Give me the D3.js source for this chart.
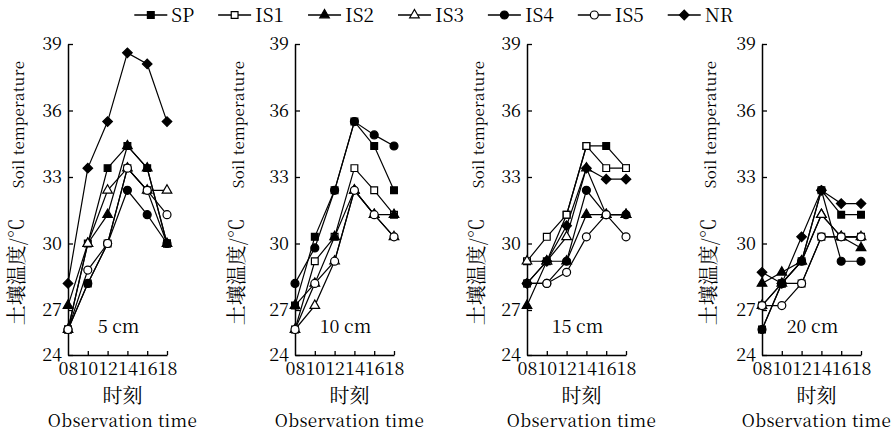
<!DOCTYPE html>
<html>
<head>
<meta charset="utf-8">
<script src="https://cdn.jsdelivr.net/npm/d3@7"></script>
<style>
    body { margin: 0; background: #fff; }
    svg text, svg tspan { fill: #000; }
    .serif { font-family: "Noto Serif CJK SC" !important; }
    .cjk { font-family: "Noto Serif CJK SC" !important; }
</style>
</head>
<body>
<div id="main"></div>
<script>
// observation hours and panel labels
const times = [8, 10, 12, 14, 16, 18];
const seriesNames = ["SP", "IS1", "IS2", "IS3", "IS4", "IS5", "NR"];
const depthLabels = ["5 cm", "10 cm", "15 cm", "20 cm"];
const yTicks = [24, 27, 30, 33, 36, 39];

// one row per depth (5, 10, 15, 20 cm)
const SP = [
    [25.7, 30.0, 33.4, 34.4, 33.4, 30.0],
    [27.2, 30.3, 32.4, 35.5, 34.4, 32.4],
    [28.2, 29.2, 31.3, 34.4, 34.4, 33.4],
    [25.7, 28.2, 29.2, 32.4, 31.3, 31.3]
];
const IS1 = [
    [25.7, 28.2, 30.0, 33.4, 32.4, 30.0],
    [25.7, 29.2, 30.3, 33.4, 32.4, 31.3],
    [29.2, 30.3, 31.3, 34.4, 33.4, 33.4],
    [27.2, 28.2, 28.2, 30.3, 30.3, 30.3]
];
const IS2 = [
    [27.2, 30.0, 31.3, 34.4, 33.4, 30.0],
    [27.2, 28.2, 30.3, 32.4, 31.3, 31.3],
    [27.2, 29.2, 29.2, 31.3, 31.3, 31.3],
    [28.2, 28.7, 29.2, 31.3, 30.3, 29.8]
];
const IS3 = [
    [25.7, 30.0, 32.4, 33.4, 32.4, 32.4],
    [25.7, 27.2, 29.2, 32.4, 31.3, 30.3],
    [29.2, 29.2, 30.3, 33.4, 31.3, 31.3],
    [27.2, 28.2, 29.2, 31.3, 30.3, 30.3]
];
const IS4 = [
    [25.7, 28.2, 30.0, 32.4, 31.3, 30.0],
    [28.2, 29.8, 32.4, 35.5, 34.9, 34.4],
    [28.2, 28.2, 29.2, 32.4, 31.3, 31.3],
    [25.7, 28.2, 29.2, 32.4, 29.2, 29.2]
];
const IS5 = [
    [25.7, 28.8, 30.0, 33.4, 32.4, 31.3],
    [25.7, 28.2, 29.2, 32.4, 31.3, 30.3],
    [28.2, 28.2, 28.7, 30.3, 31.3, 30.3],
    [27.2, 27.2, 28.2, 30.3, 30.3, 30.3]
];
const NR = [
    [28.2, 33.4, 35.5, 38.6, 38.1, 35.5],
    null,
    [28.2, 29.2, 30.8, 33.4, 32.9, 32.9],
    [28.7, 28.2, 30.3, 32.4, 31.8, 31.8]
];

const seriesData = [SP, IS1, IS2, IS3, IS4, IS5, NR];

ctx = {
    width: 895,
    height: 433,
    font: "'Noto Serif CJK SC'",
    panelX: [68, 295, 527, 762],   // y axis position of each panel
    titleX: [24, 244, 484, 716],   // baseline of rotated y title
    plotW: 99,
    yTop: 44,
    yBottom: 355,
    svg: null,
};

// marker style for every series: shape, filled or open, rotated
const markers = {
    SP:  { type: d3.symbolSquare, size: 46, fill: true, rot: 0 },
    IS1: { type: d3.symbolSquare, size: 46, fill: false, rot: 0 },
    IS2: { type: d3.symbolTriangle, size: 40, fill: true, rot: 0 },
    IS3: { type: d3.symbolTriangle, size: 40, fill: false, rot: 0 },
    IS4: { type: d3.symbolCircle, size: 50, fill: true, rot: 0 },
    IS5: { type: d3.symbolCircle, size: 50, fill: false, rot: 0 },
    NR:  { type: d3.symbolSquare, size: 46, fill: true, rot: 45 },
};

// the original axis is compressed between 24 and 27
let y = d3.scaleLinear()
    .domain([24, 27, 39])
    .range([ctx.yBottom, 310, ctx.yTop]);

function drawMarker(sel, name) {
    const m = markers[name];
    sel.attr("d", d3.symbol().type(m.type).size(m.size))
        .attr("fill", m.fill ? "#000" : "#fff")
        .attr("stroke", "#000")
        .attr("stroke-width", 1.2);
}

function drawLegend(svg) {
    let legend = svg.append("g").attr("class", "legend");
    let xPos = 0;
    seriesNames.forEach((name) => {
        let item = legend.append("g").attr("transform", "translate(" + xPos + ",0)");
        item.append("line")
            .attr("x1", 0).attr("x2", 33)
            .attr("y1", 15).attr("y2", 15)
            .attr("stroke", "#000")
            .attr("stroke-width", 1.3);
        item.append("path")
            .attr("transform", "translate(16.5,15) rotate(" + markers[name].rot + ")")
            .call(drawMarker, name);
        let t = item.append("text")
            .attr("class", "serif")
            .attr("x", 37)
            .attr("y", 22)
            .style("font-family", ctx.font)
            .style("font-size", "19px")
            .text(name);
        xPos += 37 + t.node().getComputedTextLength() + 24;
    });
    // centre the whole legend row
    let bbox = legend.node().getBBox();
    legend.attr("transform", "translate(" + (434 - bbox.width / 2) + ",0)");
}

function drawPanel(svg, p) {
    const x0 = ctx.panelX[p];
    let x = d3.scaleLinear().domain([8, 18]).range([x0, x0 + ctx.plotW]);

    let g = svg.append("g").attr("class", "panel_" + p);

    // y axis, ticks pointing inward
    let yAxis = g.append("g")
        .attr("transform", "translate(" + x0 + ",0)")
        .call(d3.axisLeft(y).tickValues(yTicks).tickSize(-5).tickSizeOuter(0).tickPadding(6).tickFormat(d3.format("d")));

    let xAxis = g.append("g")
        .attr("transform", "translate(0," + ctx.yBottom + ")")
        .call(d3.axisBottom(x).tickValues(times).tickSize(-4).tickSizeOuter(0).tickPadding(7)
            .tickFormat(d => d < 10 ? "0" + d : "" + d));

    [yAxis, xAxis].forEach((a) => {
        a.attr("font-family", null).attr("font-size", 18);
        a.selectAll(".tick text").attr("class", "serif").attr("fill", "#000");
        a.select(".domain").attr("stroke-width", 1.5);
        a.selectAll(".tick line").attr("stroke-width", 1.3);
    });
    xAxis.selectAll(".tick").filter(d => d === 8).select("line").remove();

    let line = d3.line()
        .x((d, i) => x(times[i]))
        .y(d => y(d));

    let rows = seriesNames.map((name, s) => ({ name: name, values: seriesData[s][p] }))
        .filter(r => r.values != null);

    g.append("g").selectAll("path")
        .data(rows)
        .enter().append("path")
        .attr("d", d => line(d.values))
        .attr("fill", "none")
        .attr("stroke", "#000")
        .attr("stroke-width", 1.2);

    rows.forEach((r) => {
        g.append("g").selectAll("path")
            .data(r.values)
            .enter().append("path")
            .attr("transform", (d, i) => "translate(" + x(times[i]) + "," + y(d) + ") rotate(" + markers[r.name].rot + ")")
            .call(drawMarker, r.name);
    });

    // depth label inside the plot
    g.append("text")
        .attr("class", "serif")
        .attr("x", x0 + ctx.plotW / 2 + 1)
        .attr("y", 333)
        .attr("text-anchor", "middle")
        .attr("font-size", 18)
        .text(depthLabels[p]);

    // rotated y title
    let yt = g.append("text")
        .attr("transform", "translate(" + ctx.titleX[p] + ",193) rotate(-90)")
        .attr("text-anchor", "middle");
    yt.append("tspan")
        .attr("class", "cjk")
        .attr("font-size", 20)
        .text("土壤温度/℃");
    yt.append("tspan")
        .attr("class", "serif")
        .attr("font-size", 15)
        .attr("dx", 30)
        .attr("letter-spacing", 0.3)
        .text("Soil temperature");

    const cx = x0 + ctx.plotW / 2 + 5;
    g.append("text")
        .attr("class", "cjk")
        .attr("x", cx)
        .attr("y", 403)
        .attr("text-anchor", "middle")
        .attr("font-size", 20)
        .text("时刻");
    g.append("text")
        .attr("class", "serif")
        .attr("x", cx)
        .attr("y", 427)
        .attr("text-anchor", "middle")
        .attr("font-size", 17)
        .attr("letter-spacing", 0.4)
        .text("Observation time");
}

function createViz() {
    let svgEl = d3.select("#main").append("svg")
        .attr("width", ctx.width)
        .attr("height", ctx.height);
    ctx.svg = svgEl;
    drawLegend(svgEl);
    depthLabels.forEach((d, p) => drawPanel(svgEl, p));
}

createViz();
</script>
</body>
</html>
